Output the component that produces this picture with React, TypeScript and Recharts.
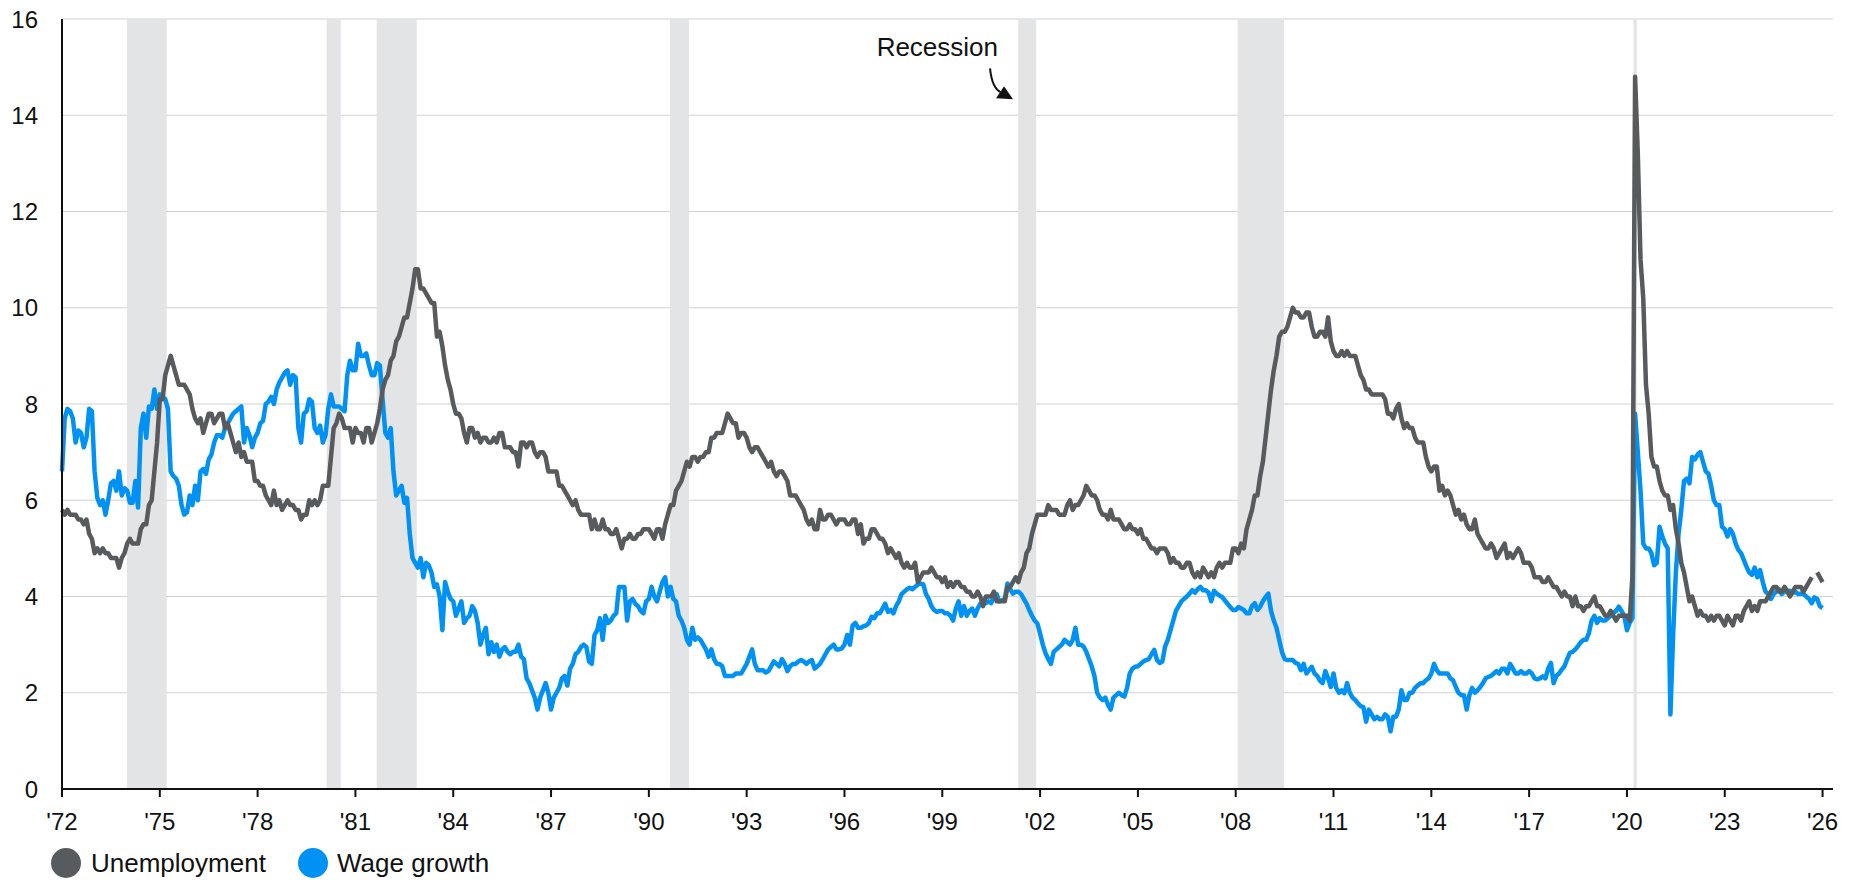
import React from 'react';
import { LineChart, Line, XAxis, YAxis, CartesianGrid, ReferenceArea, ReferenceDot } from 'recharts';

const START_YEAR = 1972;

// monthly, Jan 1972 .. Jan 2026 (Oct 2025 not published)
const unemployment: (number | null)[] = [
  5.8, 5.7, 5.8, 5.7, 5.7, 5.7, 5.6, 5.6, 5.5, 5.6, 5.3, 5.2, // 1972
  4.9, 5.0, 4.9, 5.0, 4.9, 4.9, 4.8, 4.8, 4.8, 4.6, 4.8, 4.9,
  5.1, 5.2, 5.1, 5.1, 5.1, 5.4, 5.5, 5.5, 5.9, 6.0, 6.6, 7.2,
  8.1, 8.1, 8.6, 8.8, 9.0, 8.8, 8.6, 8.4, 8.4, 8.4, 8.3, 8.2, // 1975
  7.9, 7.7, 7.6, 7.7, 7.4, 7.6, 7.8, 7.8, 7.6, 7.7, 7.8, 7.8,
  7.5, 7.6, 7.4, 7.2, 7.0, 7.2, 6.9, 7.0, 6.8, 6.8, 6.8, 6.4,
  6.4, 6.3, 6.3, 6.1, 6.0, 5.9, 6.2, 5.9, 6.0, 5.8, 5.9, 6.0, // 1978
  5.9, 5.9, 5.8, 5.8, 5.6, 5.7, 5.7, 6.0, 5.9, 6.0, 5.9, 6.0,
  6.3, 6.3, 6.3, 6.9, 7.5, 7.6, 7.8, 7.7, 7.5, 7.5, 7.5, 7.2,
  7.5, 7.4, 7.4, 7.2, 7.5, 7.5, 7.2, 7.4, 7.6, 7.9, 8.3, 8.5, // 1981
  8.6, 8.9, 9.0, 9.3, 9.4, 9.6, 9.8, 9.8, 10.1, 10.4, 10.8, 10.8,
  10.4, 10.4, 10.3, 10.2, 10.1, 10.1, 9.4, 9.5, 9.2, 8.8, 8.5, 8.3,
  8.0, 7.8, 7.8, 7.7, 7.4, 7.2, 7.5, 7.5, 7.3, 7.4, 7.2, 7.3, // 1984
  7.3, 7.2, 7.2, 7.3, 7.2, 7.4, 7.4, 7.1, 7.1, 7.1, 7.0, 7.0,
  6.7, 7.2, 7.2, 7.1, 7.2, 7.2, 7.0, 6.9, 7.0, 7.0, 6.9, 6.6,
  6.6, 6.6, 6.6, 6.3, 6.3, 6.2, 6.1, 6.0, 5.9, 6.0, 5.8, 5.7, // 1987
  5.7, 5.7, 5.7, 5.4, 5.6, 5.4, 5.4, 5.6, 5.4, 5.4, 5.3, 5.3,
  5.4, 5.2, 5.0, 5.2, 5.2, 5.3, 5.2, 5.2, 5.3, 5.3, 5.4, 5.4,
  5.4, 5.3, 5.2, 5.4, 5.4, 5.2, 5.5, 5.7, 5.9, 5.9, 6.2, 6.3, // 1990
  6.4, 6.6, 6.8, 6.7, 6.9, 6.9, 6.8, 6.9, 6.9, 7.0, 7.0, 7.3,
  7.3, 7.4, 7.4, 7.4, 7.6, 7.8, 7.7, 7.6, 7.6, 7.3, 7.4, 7.4,
  7.3, 7.1, 7.0, 7.1, 7.1, 7.0, 6.9, 6.8, 6.7, 6.8, 6.6, 6.5, // 1993
  6.6, 6.6, 6.5, 6.4, 6.1, 6.1, 6.1, 6.0, 5.9, 5.8, 5.6, 5.5,
  5.6, 5.4, 5.4, 5.8, 5.6, 5.6, 5.7, 5.7, 5.6, 5.5, 5.6, 5.6,
  5.6, 5.5, 5.5, 5.6, 5.6, 5.3, 5.5, 5.1, 5.2, 5.2, 5.4, 5.4, // 1996
  5.3, 5.2, 5.2, 5.1, 4.9, 5.0, 4.9, 4.8, 4.9, 4.7, 4.6, 4.7,
  4.6, 4.6, 4.7, 4.3, 4.4, 4.5, 4.5, 4.5, 4.6, 4.5, 4.4, 4.4,
  4.3, 4.4, 4.2, 4.3, 4.2, 4.3, 4.3, 4.2, 4.2, 4.1, 4.1, 4.0, // 1999
  4.0, 4.1, 4.0, 3.8, 4.0, 4.0, 4.0, 4.1, 3.9, 3.9, 3.9, 3.9,
  4.2, 4.2, 4.3, 4.4, 4.3, 4.5, 4.6, 4.9, 5.0, 5.3, 5.5, 5.7,
  5.7, 5.7, 5.7, 5.9, 5.8, 5.8, 5.8, 5.7, 5.7, 5.7, 5.9, 6.0, // 2002
  5.8, 5.9, 5.9, 6.0, 6.1, 6.3, 6.2, 6.1, 6.1, 6.0, 5.8, 5.7,
  5.7, 5.6, 5.8, 5.6, 5.6, 5.6, 5.5, 5.4, 5.4, 5.5, 5.4, 5.4,
  5.3, 5.4, 5.2, 5.2, 5.1, 5.0, 5.0, 4.9, 5.0, 5.0, 5.0, 4.9, // 2005
  4.7, 4.8, 4.7, 4.7, 4.6, 4.6, 4.7, 4.7, 4.5, 4.4, 4.5, 4.4,
  4.6, 4.5, 4.4, 4.5, 4.4, 4.6, 4.7, 4.6, 4.7, 4.7, 4.7, 5.0,
  5.0, 4.9, 5.1, 5.0, 5.4, 5.6, 5.8, 6.1, 6.1, 6.5, 6.8, 7.3, // 2008
  7.8, 8.3, 8.7, 9.0, 9.4, 9.5, 9.5, 9.6, 9.8, 10.0, 9.9, 9.9,
  9.8, 9.8, 9.9, 9.9, 9.6, 9.4, 9.4, 9.5, 9.5, 9.4, 9.8, 9.3,
  9.1, 9.0, 9.0, 9.1, 9.0, 9.1, 9.0, 9.0, 9.0, 8.8, 8.6, 8.5, // 2011
  8.3, 8.3, 8.2, 8.2, 8.2, 8.2, 8.2, 8.1, 7.8, 7.8, 7.7, 7.9,
  8.0, 7.7, 7.5, 7.6, 7.5, 7.5, 7.3, 7.2, 7.2, 7.2, 6.9, 6.7,
  6.6, 6.7, 6.7, 6.2, 6.3, 6.1, 6.2, 6.1, 5.9, 5.7, 5.8, 5.6, // 2014
  5.7, 5.5, 5.4, 5.4, 5.6, 5.3, 5.2, 5.1, 5.0, 5.0, 5.1, 5.0,
  4.8, 4.9, 5.0, 5.1, 4.8, 4.9, 4.8, 4.9, 5.0, 4.9, 4.7, 4.7,
  4.7, 4.6, 4.4, 4.4, 4.4, 4.3, 4.3, 4.4, 4.3, 4.2, 4.2, 4.1, // 2017
  4.0, 4.1, 4.0, 4.0, 3.8, 4.0, 3.8, 3.8, 3.7, 3.8, 3.8, 3.9,
  4.0, 3.8, 3.8, 3.7, 3.6, 3.6, 3.7, 3.6, 3.5, 3.6, 3.6, 3.6,
  3.6, 3.5, 4.4, 14.8, 13.2, 11.0, 10.2, 8.4, 7.8, 6.9, 6.7, 6.7, // 2020
  6.4, 6.2, 6.1, 6.1, 5.8, 5.9, 5.4, 5.1, 4.7, 4.5, 4.2, 3.9,
  4.0, 3.8, 3.6, 3.7, 3.6, 3.6, 3.5, 3.6, 3.5, 3.6, 3.6, 3.5,
  3.4, 3.6, 3.5, 3.4, 3.6, 3.6, 3.5, 3.7, 3.8, 3.9, 3.7, 3.8, // 2023
  3.7, 3.9, 3.9, 3.9, 4.0, 4.1, 4.2, 4.2, 4.1, 4.1, 4.2, 4.1,
  4.0, 4.1, 4.2, 4.2, 4.2, 4.1, 4.2, 4.3, 4.4, null, 4.5, 4.4,
  4.3, // 2026
];

const wageGrowth: number[] = [
  6.6, 7.7, 7.9, 7.85, 7.7, 7.2, 7.45, 7.4, 7.1, 7.3, 7.9, 7.85, // 1972
  6.6, 6.05, 5.9, 6.0, 5.7, 6.0, 6.35, 6.4, 6.2, 6.6, 6.1, 6.25,
  6.2, 5.95, 5.95, 6.4, 5.85, 7.5, 7.8, 7.3, 7.95, 7.9, 8.3, 7.9,
  8.2, 8.15, 8.1, 7.9, 6.6, 6.5, 6.45, 6.3, 5.9, 5.7, 5.75, 6.1, // 1975
  5.9, 6.3, 6.0, 6.6, 6.65, 6.55, 6.85, 6.95, 7.2, 7.35, 7.35, 7.3,
  7.5, 7.6, 7.7, 7.8, 7.85, 7.9, 7.95, 7.2, 7.5, 7.35, 7.1, 7.3,
  7.4, 7.6, 7.65, 8.0, 8.05, 8.15, 8.0, 8.3, 8.45, 8.55, 8.65, 8.7, // 1978
  8.4, 8.6, 8.55, 7.5, 7.2, 7.8, 7.85, 8.1, 8.05, 7.5, 7.4, 7.55,
  7.2, 7.35, 7.9, 8.2, 7.95, 7.95, 7.95, 7.9, 7.85, 8.6, 8.9, 8.7,
  8.7, 9.25, 9.0, 9.0, 9.05, 8.8, 8.6, 8.6, 8.85, 8.8, 8.1, 7.4, // 1981
  7.3, 7.5, 6.6, 6.1, 6.2, 6.3, 5.95, 6.05, 5.3, 4.8, 4.7, 4.6,
  4.8, 4.4, 4.7, 4.65, 4.5, 4.2, 4.25, 4.0, 3.3, 4.3, 4.1, 3.95,
  3.9, 3.6, 3.75, 3.9, 3.45, 3.55, 3.6, 3.8, 3.7, 3.45, 3.0, 3.2, // 1984
  3.35, 2.8, 3.05, 2.85, 3.0, 2.75, 2.9, 2.95, 2.85, 2.8, 2.85, 2.85,
  3.0, 2.75, 2.7, 2.3, 2.2, 2.05, 1.9, 1.65, 1.9, 2.05, 2.2, 2.0,
  1.65, 1.9, 2.0, 2.1, 2.3, 2.35, 2.15, 2.5, 2.6, 2.8, 2.85, 2.95, // 1987
  3.0, 2.95, 2.65, 2.6, 3.2, 3.3, 3.55, 3.1, 3.6, 3.45, 3.5, 3.6,
  3.65, 4.2, 4.2, 4.2, 3.5, 3.9, 3.95, 3.85, 3.8, 3.7, 3.65, 3.9,
  3.95, 4.2, 4.0, 3.9, 4.1, 4.3, 4.4, 4.0, 4.2, 3.95, 3.9, 3.6, // 1990
  3.5, 3.35, 3.1, 3.0, 3.35, 3.1, 3.15, 3.1, 3.0, 2.9, 2.75, 2.9,
  2.7, 2.6, 2.6, 2.55, 2.35, 2.35, 2.35, 2.35, 2.4, 2.4, 2.4, 2.5,
  2.6, 2.75, 2.9, 2.6, 2.47, 2.47, 2.47, 2.42, 2.45, 2.55, 2.65, 2.6, // 1993
  2.55, 2.7, 2.6, 2.45, 2.55, 2.6, 2.6, 2.65, 2.68, 2.65, 2.6, 2.65,
  2.68, 2.5, 2.55, 2.6, 2.7, 2.8, 2.9, 2.95, 3.0, 2.9, 2.9, 2.92,
  3.0, 3.2, 3.0, 3.4, 3.45, 3.35, 3.35, 3.38, 3.4, 3.45, 3.58, 3.55, // 1996
  3.65, 3.65, 3.75, 3.85, 3.68, 3.72, 3.65, 3.8, 3.9, 4.05, 4.1, 4.15,
  4.18, 4.15, 4.2, 4.25, 4.27, 4.25, 4.05, 3.95, 3.8, 3.72, 3.68, 3.7,
  3.7, 3.65, 3.65, 3.6, 3.5, 3.75, 3.9, 3.6, 3.8, 3.6, 3.7, 3.75, // 1999
  3.6, 3.75, 3.85, 3.85, 3.86, 3.9, 3.86, 4.0, 4.05, 3.9, 3.92, 3.95,
  4.27, 4.15, 4.06, 4.1, 4.1, 4.05, 3.95, 3.85, 3.72, 3.6, 3.5, 3.44,
  3.23, 3.0, 2.82, 2.7, 2.6, 2.85, 2.9, 2.95, 3.0, 3.1, 3.05, 3.0, // 2002
  3.1, 3.35, 3.0, 3.0, 2.96, 2.85, 2.7, 2.55, 2.35, 2.0, 1.9, 1.85,
  1.9, 1.75, 1.65, 1.9, 1.95, 2.0, 1.95, 1.92, 2.1, 2.4, 2.5, 2.54,
  2.55, 2.6, 2.65, 2.68, 2.7, 2.8, 2.89, 2.68, 2.62, 2.65, 2.96, 3.1, // 2005
  3.3, 3.5, 3.7, 3.8, 3.9, 3.95, 4.0, 4.06, 4.13, 4.08, 4.15, 4.2,
  4.13, 4.13, 4.08, 3.9, 4.12, 4.06, 4.02, 3.99, 3.92, 3.85, 3.78, 3.72,
  3.72, 3.78, 3.75, 3.72, 3.65, 3.65, 3.8, 3.86, 3.72, 3.79, 3.9, 3.99, // 2008
  4.06, 3.7, 3.5, 3.35, 3.1, 2.85, 2.7, 2.68, 2.68, 2.68, 2.62, 2.6,
  2.47, 2.6, 2.4, 2.47, 2.54, 2.4, 2.35, 2.25, 2.2, 2.45, 2.3, 2.12,
  2.4, 2.1, 2.0, 2.05, 1.99, 2.2, 2.0, 1.9, 1.85, 1.78, 1.72, 1.7, // 2011
  1.4, 1.65, 1.55, 1.45, 1.5, 1.45, 1.45, 1.55, 1.5, 1.2, 1.5, 1.5,
  1.65, 2.05, 1.85, 1.85, 2.0, 2.0, 2.1, 2.15, 2.2, 2.2, 2.26, 2.3,
  2.4, 2.6, 2.47, 2.4, 2.4, 2.4, 2.4, 2.3, 2.26, 2.12, 2.0, 1.95, // 2014
  1.95, 1.65, 1.95, 2.1, 2.0, 2.05, 2.12, 2.2, 2.3, 2.33, 2.35, 2.4,
  2.45, 2.4, 2.5, 2.5, 2.4, 2.6, 2.5, 2.4, 2.4, 2.45, 2.4, 2.4,
  2.45, 2.4, 2.3, 2.28, 2.3, 2.34, 2.3, 2.5, 2.62, 2.2, 2.35, 2.4, // 2017
  2.48, 2.55, 2.7, 2.83, 2.85, 2.9, 2.97, 3.05, 3.1, 3.1, 3.24, 3.5,
  3.6, 3.45, 3.55, 3.5, 3.5, 3.55, 3.6, 3.66, 3.7, 3.79, 3.7, 3.6,
  3.3, 3.45, 3.55, 7.8, 7.0, 6.2, 5.1, 5.0, 5.0, 4.9, 4.65, 4.7, // 2020
  5.45, 5.25, 5.1, 5.0, 1.55, 3.2, 4.5, 5.3, 5.8, 6.4, 6.45, 6.35,
  6.9, 6.85, 6.95, 7.0, 6.8, 6.6, 6.55, 6.3, 6.0, 5.9, 5.9, 5.45,
  5.4, 5.25, 5.4, 5.3, 5.1, 4.97, 4.9, 4.76, 4.62, 4.5, 4.45, 4.6, // 2023
  4.4, 4.55, 4.3, 4.1, 4.05, 3.95, 4.05, 4.1, 4.15, 4.05, 4.1, 4.12,
  4.12, 4.07, 4.1, 4.05, 4.06, 4.05, 4.0, 3.95, 3.86, 3.98, 3.95, 3.8,
  3.76, // 2026
];

const recessions: [number, number][] = [
  [1973.99, 1975.21],
  [1980.12, 1980.55],
  [1981.65, 1982.88],
  [1990.65, 1991.23],
  [2001.33, 2001.88],
  [2008.06, 2009.48],
  [2020.2, 2020.3],
];

const xTicks = [1972, 1975, 1978, 1981, 1984, 1987, 1990, 1993, 1996, 1999, 2002, 2005, 2008, 2011, 2014, 2017, 2020, 2023, 2026];
const yTicks = [0, 2, 4, 6, 8, 10, 12, 14, 16];

const data = unemployment.map((u, i) => ({
  t: START_YEAR + i / 12,
  unemployment: u,
  wage: wageGrowth[i],
}));

const FONT = '"Liberation Sans", Arial, sans-serif';
const GRAY = '#585b5e';
const BLUE = '#0091f5';

const RecessionNote = ({ cx, cy }: { cx?: number; cy?: number }) => {
  if (cx == null || cy == null) return null;
  return (
    <g>
      <text x={cx - 15} y={cy - 43} textAnchor="end" fontSize={26} fontFamily={FONT} fill="#111">
        Recession
      </text>
      <path d={`M${cx - 23},${cy - 31} Q${cx - 21},${cy - 11} ${cx - 12},${cy - 7}`} stroke="#111" strokeWidth={2} fill="none" />
      <path d={`M${cx},${cy} L${cx - 17},${cy - 1} L${cx - 9},${cy - 13} Z`} fill="#111" />
    </g>
  );
};

export default function App() {
  return (
    <div style={{ position: 'absolute', left: 0, top: 0, width: 1858, height: 880, background: '#fff' }}>
      <LineChart width={1858} height={880} data={data} margin={{ top: 19, right: 25, bottom: 0, left: 0 }}>
        <CartesianGrid vertical={false} stroke="#d2d2d2" strokeWidth={1.2} />
        {recessions.map(([a, b]) => (
          <ReferenceArea key={a} x1={a} x2={b} fill="#e3e4e6" fillOpacity={1} stroke="none" />
        ))}
        <XAxis
          dataKey="t"
          type="number"
          domain={[1972, 2026.32]}
          ticks={xTicks}
          interval={0}
          height={91}
          tickSize={8}
          tickMargin={16}
          tickLine={{ stroke: '#111', strokeWidth: 2 }}
          axisLine={{ stroke: '#111', strokeWidth: 2 }}
          tickFormatter={(v: number) => `'${String(v).slice(2)}`}
          tick={{ fontSize: 24, fill: '#111', fontFamily: FONT }}
        />
        <YAxis
          type="number"
          domain={[0, 16]}
          ticks={yTicks}
          interval={0}
          width={62}
          tickSize={0}
          tickMargin={24}
          tickLine={false}
          axisLine={{ stroke: '#111', strokeWidth: 2 }}
          tick={{ fontSize: 24, fill: '#111', fontFamily: FONT }}
        />
        <Line
          dataKey="wage"
          type="linear"
          stroke={BLUE}
          strokeWidth={4.5}
          strokeLinejoin="round"
          dot={false}
          isAnimationActive={false}
        />
        <Line
          dataKey="unemployment"
          type="linear"
          stroke={GRAY}
          strokeWidth={4.5}
          strokeLinejoin="round"
          dot={false}
          isAnimationActive={false}
        />
        <ReferenceDot x={2001.17} y={14.33} r={0} shape={(p: any) => <RecessionNote cx={p.cx} cy={p.cy} />} />
      </LineChart>
      <svg width={600} height={50} style={{ position: 'absolute', left: 0, top: 838 }}>
        <circle cx={66} cy={25} r={15} fill={GRAY} />
        <text x={91} y={34} fontSize={26} fontFamily={FONT} fill="#111">Unemployment</text>
        <circle cx={313} cy={25} r={15} fill={BLUE} />
        <text x={337} y={34} fontSize={26} fontFamily={FONT} fill="#111">Wage growth</text>
      </svg>
    </div>
  );
}
